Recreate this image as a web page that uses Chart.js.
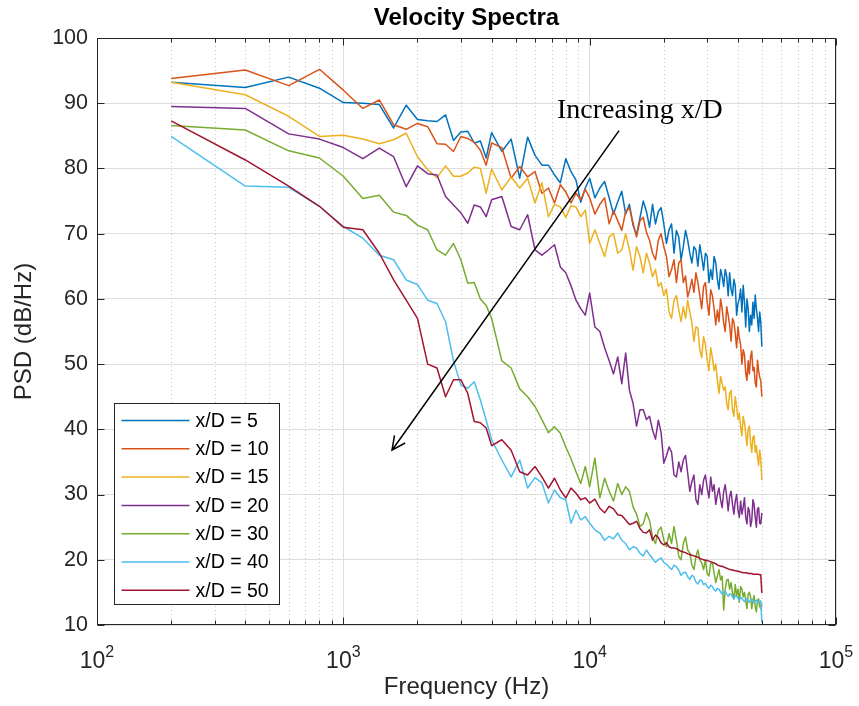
<!DOCTYPE html>
<html>
<head>
<meta charset="utf-8">
<title>Velocity Spectra</title>
<script src="https://cdn.jsdelivr.net/npm/chart.js@4.4.1/dist/chart.umd.min.js"></script>
<style>
  html, body { margin: 0; padding: 0; background: #fff; }
  #wrap { width: 859px; height: 706px; }
</style>
</head>
<body>
<div id="wrap"><canvas id="spectra"></canvas></div>
<script>
// frequency bins, Hz (dense at low f, every 400 Hz mid band, every 500 Hz above 10 kHz)
var freqHz = [200, 400, 600, 800, 1000, 1200, 1400, 1600, 1800, 2000,
              2200, 2400, 2600, 2800, 3000, 3200, 3400, 3600, 3800, 4000,
              4400, 4800, 5200, 5600, 6000, 6400, 6800, 7200, 7600, 8000,
              8400, 8800, 9200, 9600, 10000,
              10500, 11000, 11500, 12000, 12500, 13000, 13500, 14000, 14500, 15000,
              15500, 16000, 16500, 17000, 17500, 18000, 18500, 19000, 19500, 20000,
              20500, 21000, 21500, 22000, 22500, 23000, 23500, 24000, 24500, 25000,
              25500, 26000, 26500, 27000, 27500, 28000, 28500, 29000, 29500, 30000,
              30500, 31000, 31500, 32000, 32500, 33000, 33500, 34000, 34500, 35000,
              35500, 36000, 36500, 37000, 37500, 38000, 38500, 39000, 39500, 40000,
              40500, 41000, 41500, 42000, 42500, 43000, 43500, 44000, 44500, 45000,
              45500, 46000, 46500, 47000, 47500, 48000, 48500, 49000, 49500, 50000];

// PSD in dB/Hz, one array per x/D station
var psdXD5 = [93.2, 92.4, 94.0, 92.3, 90.1, 90.0, 89.8, 86.2, 89.7, 87.5,
              87.3, 87.2, 88.2, 84.3, 85.6, 85.7, 83.9, 84.2, 81.6, 85.5,
              82.6, 84.5, 78.5, 84.8, 82.0, 80.5, 80.5, 79.0, 77.8, 81.5,
              79.5, 78.2, 74.8, 77.0, 78.5,
              75.5, 77.0, 78.0, 75.5, 73.0, 74.9, 76.5, 73.0, 74.5, 71.3,
              69.8, 72.4, 75.0, 73.4, 71.0, 74.5, 71.5, 73.4, 74.0, 71.5,
              68.5, 70.6, 71.5, 67.0, 70.5, 69.5, 66.0, 68.0, 70.5, 69.0,
              67.0, 65.5, 68.0, 67.5, 65.0, 68.3, 66.5, 64.4, 67.0, 66.5,
              62.5, 64.5, 63.0, 66.5, 65.5, 63.0, 61.5, 64.5, 63.5, 61.9,
              64.5, 63.5, 60.5, 64.0, 61.5, 60.5, 63.0, 62.0, 57.5, 59.3,
              60.0, 61.5, 58.0, 62.1, 59.5, 55.7, 60.0, 58.5, 55.0, 57.5,
              56.0, 59.5, 57.0, 60.6, 58.5, 57.0, 55.0, 58.0, 56.5, 52.7];
var psdXD10 = [93.8, 95.1, 92.7, 95.2, 92.0, 89.2, 90.5, 86.7, 86.0, 86.9,
               86.4, 83.8, 83.7, 82.6, 84.9, 84.6, 84.0, 82.8, 80.5, 83.9,
               83.2, 78.5, 80.3, 78.7, 79.5, 76.2, 77.0, 74.7, 77.5, 76.4,
               74.7, 76.2, 75.2, 76.8, 75.5,
               73.0, 74.5, 75.5, 71.5, 73.5, 72.0, 70.5, 73.4, 74.0, 71.6,
               69.5, 72.0, 72.5, 70.2, 69.0, 67.0, 66.0, 69.0, 70.0, 68.0,
               66.5, 63.4, 64.5, 66.0, 62.5, 65.5, 66.0, 62.5, 63.5, 60.3,
               61.5, 63.0, 61.0, 64.0, 62.5, 60.5, 58.5, 61.9, 62.5, 59.5,
               57.5, 61.4, 60.5, 58.5, 56.0, 58.3, 56.5, 60.0, 58.5, 56.3,
               55.0, 58.8, 57.5, 56.0, 53.5, 57.0, 56.5, 54.7, 52.5, 55.7,
               54.0, 53.0, 50.0, 52.2, 51.5, 48.6, 47.5, 50.5, 48.5, 51.1,
               52.0, 49.0, 49.5, 47.1, 46.5, 50.6, 49.0, 48.0, 47.5, 45.0];
var psdXD15 = [93.2, 91.3, 88.0, 84.9, 85.1, 84.5, 83.8, 84.4, 85.4, 81.8,
               79.8, 78.6, 80.4, 78.8, 78.8, 79.3, 80.2, 80.0, 76.2, 79.9,
               76.7, 78.7, 77.0, 78.5, 74.7, 77.8, 72.6, 74.5, 74.1, 72.5,
               74.3, 74.1, 72.6, 73.6, 68.5,
               70.6, 68.5, 66.5, 69.5, 70.0, 67.0, 67.5, 70.0, 67.5, 64.4,
               68.0, 66.5, 64.0, 67.0, 65.5, 63.4, 64.5, 61.9, 62.5, 60.5,
               61.5, 58.0, 57.0, 59.8, 60.5, 58.3, 56.5, 58.8, 57.0, 59.8,
               58.0, 56.3, 53.5, 55.7, 55.5, 52.2, 51.0, 54.2, 53.0, 50.6,
               49.0, 52.5, 51.0, 49.0, 50.0, 47.5, 45.5, 48.1, 47.0, 46.0,
               46.5, 44.0, 43.0, 45.5, 46.0, 43.0, 42.0, 45.0, 43.5, 41.5,
               42.5, 40.4, 39.0, 42.0, 41.0, 39.4, 37.5, 40.0, 40.5, 37.9,
               36.5, 38.8, 39.0, 36.5, 37.5, 35.8, 34.5, 36.8, 35.5, 32.2];
var psdXD20 = [89.5, 89.2, 85.3, 84.5, 83.2, 81.5, 83.1, 81.8, 77.2, 80.4,
               79.2, 79.0, 75.7, 74.4, 73.2, 71.6, 74.4, 74.1, 72.6, 75.2,
               75.7, 71.1, 70.6, 72.9, 67.5, 66.7, 67.5, 68.3, 64.9, 64.0,
               62.0, 59.8, 58.5, 57.5, 60.9,
               55.7, 55.0, 52.5, 50.5, 48.5, 51.1, 47.0, 51.7, 46.0, 44.0,
               40.5, 43.0, 43.0, 41.5, 42.0, 39.9, 38.5, 41.4, 39.5, 34.8,
               36.0, 37.3, 36.5, 33.0, 32.7, 35.0, 33.5, 35.3, 36.0, 33.3,
               30.5, 32.0, 33.0, 29.2, 28.5, 31.5, 30.0, 32.2, 33.0, 31.0,
               29.5, 32.7, 30.5, 31.5, 28.5, 30.0, 31.0, 29.2, 28.0, 30.5,
               31.5, 29.7, 27.5, 29.7, 30.5, 28.5, 27.0, 29.0, 30.0, 27.6,
               26.5, 29.0, 27.0, 28.1, 29.5, 26.5, 25.5, 28.0, 27.5, 25.1,
               26.0, 29.2, 28.5, 26.5, 25.0, 27.8, 28.0, 25.6, 25.5, 27.2];
var psdXD30 = [86.6, 85.9, 82.7, 81.6, 78.8, 75.4, 75.9, 73.3, 72.8, 71.3,
               70.6, 67.5, 66.7, 68.5, 66.0, 62.4, 62.5, 60.0, 59.0, 57.0,
               50.5, 49.4, 46.2, 45.0, 43.5, 41.5, 39.5, 40.4, 39.4, 37.3,
               35.5, 33.5, 31.7, 34.3, 31.2,
               35.6, 29.5, 32.5, 30.5, 29.0, 31.7, 30.0, 31.2, 30.5, 28.1,
               27.0, 25.1, 25.5, 27.2, 26.0, 23.5, 22.5, 24.5, 25.0, 23.0,
               22.0, 24.0, 22.5, 25.1, 23.0, 20.5, 20.0, 22.5, 23.5, 21.5,
               21.0, 19.2, 18.5, 20.5, 21.5, 20.0, 19.5, 18.5, 20.0, 17.9,
               17.5, 19.4, 19.5, 18.0, 16.5, 17.5, 18.5, 16.9, 17.5, 12.3,
               15.5, 16.9, 17.0, 15.5, 16.5, 14.9, 14.0, 16.2, 14.5, 15.5,
               13.5, 15.9, 15.5, 14.3, 15.0, 13.8, 12.5, 14.8, 15.0, 14.3,
               12.5, 13.8, 14.5, 12.8, 12.0, 13.8, 14.0, 12.8, 12.5, 13.3];
var psdXD40 = [84.9, 77.3, 77.1, 74.2, 71.1, 69.3, 66.7, 66.0, 62.9, 62.2,
               59.8, 59.3, 56.5, 50.5, 46.8, 46.3, 47.3, 44.5, 41.4, 38.4,
               35.3, 32.7, 35.3, 31.0, 32.6, 31.8, 28.7, 30.7, 29.5, 29.2,
               25.6, 27.6, 26.1, 26.6, 25.6,
               24.6, 24.1, 23.0, 23.6, 23.2, 24.1, 23.0, 22.5, 21.5, 22.0,
               21.8, 21.0, 20.6, 21.5, 20.8, 20.2, 19.6, 20.0, 20.3, 19.6,
               19.3, 18.9, 18.5, 19.2, 18.9, 18.4, 17.6, 18.0, 18.1, 17.4,
               17.0, 17.6, 17.4, 16.6, 16.3, 16.9, 16.8, 16.2, 16.4, 15.9,
               15.6, 16.1, 15.9, 15.4, 15.2, 15.6, 15.5, 15.1, 14.7, 15.0,
               15.2, 14.7, 14.4, 14.8, 14.7, 14.3, 14.0, 14.5, 14.4, 14.1,
               13.8, 14.2, 14.1, 13.8, 13.6, 13.9, 14.0, 13.7, 13.5, 13.8,
               13.9, 13.6, 13.4, 13.7, 13.8, 13.5, 13.4, 13.6, 13.7, 10.4];
var psdXD50 = [87.3, 81.3, 77.3, 74.2, 71.0, 70.6, 67.0, 62.9, 59.8, 57.0,
               50.0, 49.4, 45.0, 47.6, 47.6, 45.5, 41.2, 41.0, 40.2, 37.5,
               38.4, 36.8, 33.5, 33.0, 34.3, 32.7, 31.0, 32.5, 30.7, 29.5,
               31.0, 30.2, 29.2, 29.5, 28.7,
               29.3, 27.9, 27.2, 28.2, 27.8, 26.9, 26.8, 26.1, 25.4, 25.6,
               25.9, 24.8, 24.2, 24.1, 24.6, 23.0, 23.8, 23.4, 22.6, 22.3,
               22.6, 22.0, 21.8, 21.8, 21.7, 21.5, 21.3, 21.2, 21.1, 20.9,
               20.8, 20.7, 20.6, 20.5, 20.4, 20.2, 20.1, 20.0, 19.9, 19.9,
               19.8, 19.7, 19.6, 19.5, 19.4, 19.2, 19.1, 19.0, 19.0, 18.9,
               18.8, 18.7, 18.6, 18.5, 18.5, 18.4, 18.4, 18.3, 18.3, 18.2,
               18.2, 18.1, 18.1, 18.0, 18.0, 18.0, 18.0, 17.9, 17.9, 17.9,
               17.9, 17.8, 17.8, 17.8, 17.8, 17.8, 17.8, 17.7, 17.7, 14.9];

var seriesLabels = ['x/D = 5', 'x/D = 10', 'x/D = 15', 'x/D = 20', 'x/D = 30', 'x/D = 40', 'x/D = 50'];
var seriesValues = [psdXD5, psdXD10, psdXD15, psdXD20, psdXD30, psdXD40, psdXD50];
var seriesColors = ['#0072BD', '#D95319', '#EDB120', '#7E2F8E', '#77AC30', '#4DBEEE', '#A2142F'];

var yTicks = [10, 20, 30, 40, 50, 60, 70, 80, 90, 100];
var xDecades = [100, 1000, 10000, 100000];
var xDecadeExp = ['2', '3', '4', '5'];

var chartTitle = 'Velocity Spectra';

// annotation, in data units (Hz, dB/Hz)
var noteText = 'Increasing x/D';
var noteAt = [7370, 87.7];
var arrowFrom = [13160, 85.8];
var arrowTo = [1576, 36.8];

var axisInk = '#262626';
var sans = '"Liberation Sans", Arial, sans-serif';

var datasets = seriesValues.map(function (vals, i) {
    return {
        label: seriesLabels[i],
        data: vals.map(function (v, k) { return { x: freqHz[k], y: v }; }),
        borderColor: seriesColors[i],
        backgroundColor: seriesColors[i],
        borderWidth: 1.5,
        borderJoinStyle: 'round',
        pointRadius: 0,
        tension: 0,
        fill: false,
        order: seriesValues.length - i   // later series on top, like MATLAB
    };
});

// minor grid, box, ticks, tick labels with exponents, title, legend and the arrow note
var matlabFrame = {
    id: 'matlabFrame',
    beforeDatasetsDraw: function (chart) {
        var ctx = chart.ctx, a = chart.chartArea, xs = chart.scales.x;
        ctx.save();
        ctx.strokeStyle = '#c4c4c4';
        ctx.lineWidth = 1;
        ctx.setLineDash([1, 3]);
        for (var d = 0; d < xDecades.length - 1; d++) {
            for (var m = 2; m <= 9; m++) {
                var px = Math.round(xs.getPixelForValue(xDecades[d] * m)) + 0.5;
                ctx.beginPath();
                ctx.moveTo(px, a.top);
                ctx.lineTo(px, a.bottom);
                ctx.stroke();
            }
        }
        ctx.restore();
    },
    afterDatasetsDraw: function (chart) {
        var ctx = chart.ctx, a = chart.chartArea;
        var xs = chart.scales.x, ys = chart.scales.y;
        var L = Math.round(a.left) + 0.5, R = Math.round(a.right) - 0.5;
        var T = Math.round(a.top) + 0.5, B = Math.round(a.bottom) - 0.5;
        ctx.save();

        // axes box + inward ticks
        ctx.strokeStyle = axisInk;
        ctx.lineWidth = 1;
        ctx.strokeRect(L, T, R - L, B - T);
        ctx.beginPath();
        yTicks.forEach(function (v) {
            var py = Math.round(ys.getPixelForValue(v)) + 0.5;
            ctx.moveTo(L, py); ctx.lineTo(L + 7, py);
            ctx.moveTo(R, py); ctx.lineTo(R - 7, py);
        });
        for (var d = 0; d < xDecades.length; d++) {
            var px = Math.round(xs.getPixelForValue(xDecades[d])) + 0.5;
            ctx.moveTo(px, B); ctx.lineTo(px, B - 7);
            ctx.moveTo(px, T); ctx.lineTo(px, T + 7);
            if (d < xDecades.length - 1) {
                for (var m = 2; m <= 9; m++) {
                    var pm = Math.round(xs.getPixelForValue(xDecades[d] * m)) + 0.5;
                    ctx.moveTo(pm, B); ctx.lineTo(pm, B - 4);
                    ctx.moveTo(pm, T); ctx.lineTo(pm, T + 4);
                }
            }
        }
        ctx.stroke();

        // title, centred over the axes
        ctx.fillStyle = '#000';
        ctx.textAlign = 'center';
        ctx.textBaseline = 'middle';
        ctx.font = 'bold 24px ' + sans;
        ctx.fillText(chartTitle, (a.left + a.right) / 2, 18);

        // x tick labels: 10 with raised exponent
        ctx.fillStyle = axisInk;
        ctx.textBaseline = 'alphabetic';
        ctx.textAlign = 'left';
        xDecades.forEach(function (v, i) {
            var cx = xs.getPixelForValue(v);
            ctx.font = '23px ' + sans;
            var w1 = ctx.measureText('10').width;
            ctx.font = '16px ' + sans;
            var w2 = ctx.measureText(xDecadeExp[i]).width;
            var x0 = cx - (w1 + w2) / 2;
            ctx.font = '23px ' + sans;
            ctx.fillText('10', x0, a.bottom + 43);
            ctx.font = '16px ' + sans;
            ctx.fillText(xDecadeExp[i], x0 + w1, a.bottom + 32);
        });

        // annotation arrow
        var x1 = xs.getPixelForValue(arrowFrom[0]), y1 = ys.getPixelForValue(arrowFrom[1]);
        var x2 = xs.getPixelForValue(arrowTo[0]), y2 = ys.getPixelForValue(arrowTo[1]);
        var ang = Math.atan2(y2 - y1, x2 - x1);
        ctx.strokeStyle = '#000';
        ctx.lineWidth = 1.5;
        ctx.beginPath();
        ctx.moveTo(x1, y1);
        ctx.lineTo(x2, y2);
        ctx.moveTo(x2 - 15 * Math.cos(ang - 0.45), y2 - 15 * Math.sin(ang - 0.45));
        ctx.lineTo(x2, y2);
        ctx.lineTo(x2 - 15 * Math.cos(ang + 0.45), y2 - 15 * Math.sin(ang + 0.45));
        ctx.stroke();
        ctx.fillStyle = '#000';
        ctx.font = '28px "Liberation Serif", "Times New Roman", serif';
        ctx.fillText(noteText, xs.getPixelForValue(noteAt[0]), ys.getPixelForValue(noteAt[1]));

        // legend box, lower left inside the axes
        var lgLeft = Math.round(a.left) + 17.5, lgTop = Math.round(a.bottom) - 221.5;
        var lgW = 165, lgH = 201, rowH = 28.3;
        ctx.fillStyle = '#fff';
        ctx.fillRect(lgLeft, lgTop, lgW, lgH);
        ctx.strokeStyle = axisInk;
        ctx.lineWidth = 1;
        ctx.strokeRect(lgLeft, lgTop, lgW, lgH);
        ctx.font = '19.5px ' + sans;
        ctx.textBaseline = 'middle';
        chart.data.datasets.forEach(function (ds, i) {
            var ry = lgTop + 17 + i * rowH;
            ctx.strokeStyle = ds.borderColor;
            ctx.lineWidth = 1.5;
            ctx.beginPath();
            ctx.moveTo(lgLeft + 7, ry);
            ctx.lineTo(lgLeft + 75, ry);
            ctx.stroke();
            ctx.fillStyle = '#000';
            ctx.fillText(ds.label, lgLeft + 81, ry + 1);
        });

        ctx.restore();
    }
};

new Chart(document.getElementById('spectra'), {
    type: 'line',
    data: { datasets: datasets },
    plugins: [matlabFrame],
    options: {
        responsive: true,
        maintainAspectRatio: false,
        devicePixelRatio: 1,
        animation: false,
        layout: { padding: { left: 0, right: 23, top: 38, bottom: 0 } },
        plugins: {
            legend: { display: false },
            tooltip: { enabled: false },
            title: { display: false }
        },
        scales: {
            x: {
                type: 'logarithmic',
                min: 100,
                max: 100000,
                afterBuildTicks: function (scale) {
                    scale.ticks = xDecades.map(function (v) { return { value: v, major: true }; });
                },
                afterFit: function (scale) { scale.height = 81; },
                ticks: { display: false },
                grid: { color: '#dedede', lineWidth: 1, drawTicks: false },
                border: { display: false },
                title: {
                    display: true,
                    text: 'Frequency (Hz)',
                    color: axisInk,
                    font: { family: sans, size: 24 },
                    padding: { top: 0, bottom: 4 }
                }
            },
            y: {
                type: 'linear',
                min: 10,
                max: 100,
                afterBuildTicks: function (scale) {
                    scale.ticks = yTicks.map(function (v) { return { value: v }; });
                },
                afterFit: function (scale) { scale.width = 97; },
                ticks: {
                    color: axisInk,
                    font: { family: sans, size: 21.5 },
                    padding: 9
                },
                grid: { color: '#dedede', lineWidth: 1, drawTicks: false },
                border: { display: false },
                title: {
                    display: true,
                    text: 'PSD (dB/Hz)',
                    color: axisInk,
                    font: { family: sans, size: 24 },
                    padding: { top: 10, bottom: 0 }
                }
            }
        }
    }
});
</script>
</body>
</html>
